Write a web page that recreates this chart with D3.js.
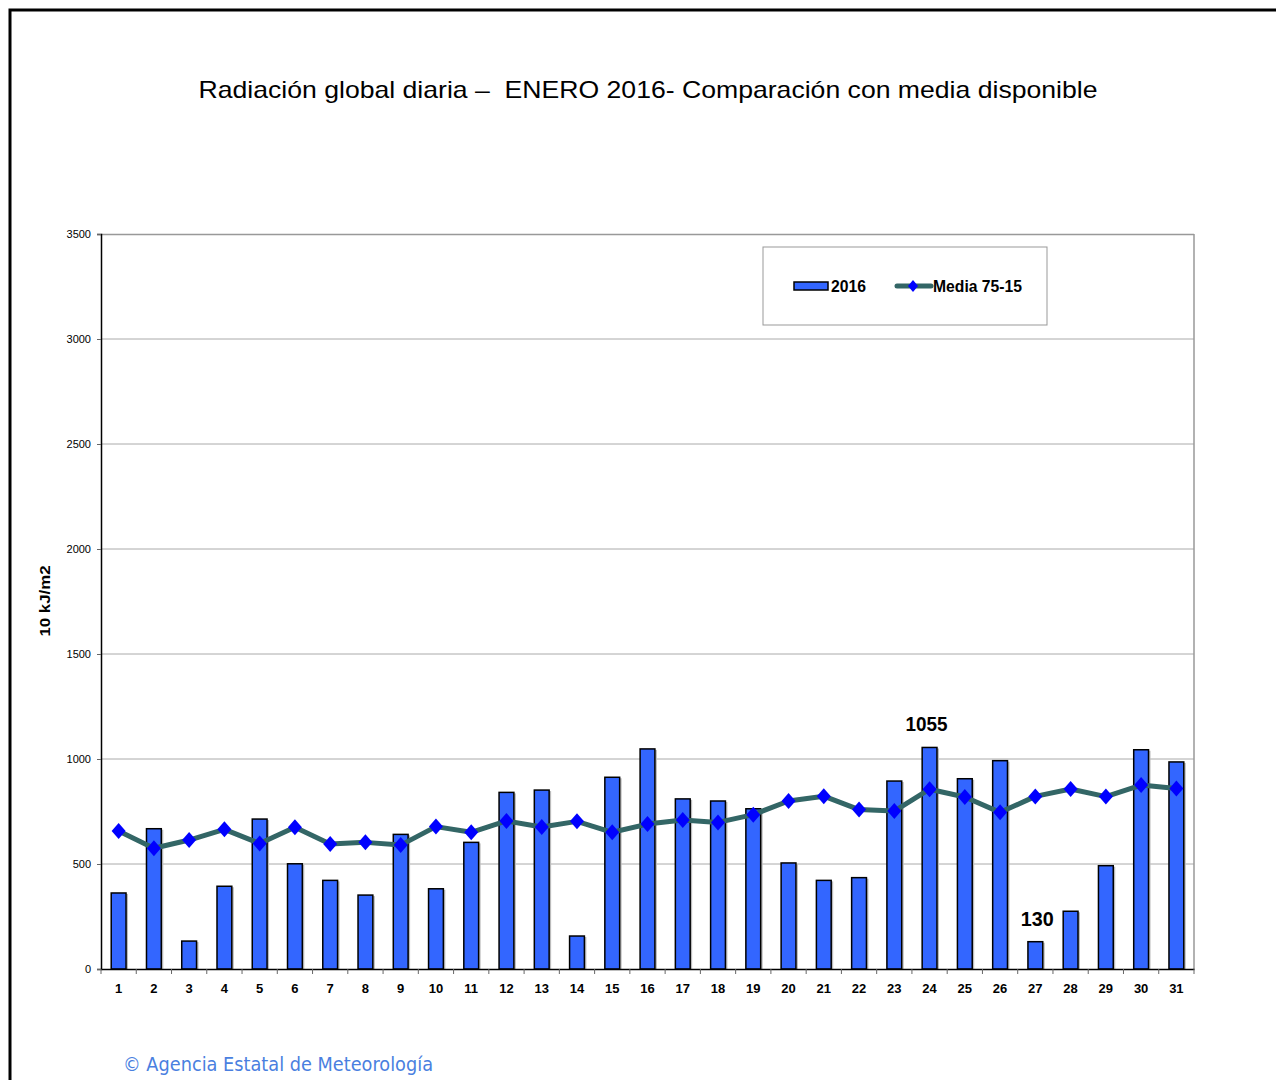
<!DOCTYPE html>
<html>
<head>
<meta charset="utf-8">
<script src="https://cdn.jsdelivr.net/npm/d3@7"></script>
<style>
  body { margin: 0; background: #fff; }
  svg { display: block; }
</style>
</head>
<body>
<div id="chart"></div>
<script>
// Dias de enero
const days = d3.range(1, 32).map(String);
// Radiacion 2016 (10 kJ/m2)
const values2016 = [362, 668, 133, 394, 714, 501, 422, 352, 641, 382,
                    603, 841, 852, 157, 913, 1048, 810, 800, 763, 505,
                    422, 435, 895, 1055, 906, 992, 130, 275, 492, 1044, 986];
// Media 75-15
const mediaValues = [657, 575, 614, 665, 598, 675, 595, 603, 590, 678,
                     651, 705, 676, 703, 651, 690, 710, 698, 735, 800,
                     823, 759, 752, 856, 819, 746, 822, 857, 821, 876, 859];
const yTicks = [0, 500, 1000, 1500, 2000, 2500, 3000, 3500];
// etiquetas de max / min
const labelled = [{day: "24", text: "1055", dx: -3, w: 42}, {day: "27", text: "130", dx: 2, w: 33}];

const width = 1276, height = 1080;
const margin = {top: 234, right: 82, bottom: 111, left: 101};
const plotW = width - margin.left - margin.right;
const plotH = height - margin.top - margin.bottom;

const svg = d3.select("#chart").append("svg")
    .attr("width", width)
    .attr("height", height)
    .style("font-family", "Arial, 'Liberation Sans', sans-serif");

// marco exterior
svg.append("rect")
    .attr("x", 10).attr("y", 10)
    .attr("width", width + 20).attr("height", height + 20)
    .attr("fill", "none").attr("stroke", "#000").attr("stroke-width", 3);

// titulo
svg.append("text")
    .attr("x", 648).attr("y", 98)
    .attr("text-anchor", "middle")
    .style("font-size", "24px")
    .style("white-space", "pre")
    .attr("textLength", 899)
    .attr("lengthAdjust", "spacingAndGlyphs")
    .text("Radiación global diaria –  ENERO 2016- Comparación con media disponible");

const g = svg.append("g").attr("transform", `translate(${margin.left},${margin.top})`);

const x = d3.scaleBand().domain(days).range([0, plotW]).paddingInner(0.58).paddingOuter(0.29);
const y = d3.scaleLinear().domain([0, 3500]).range([plotH, 0]);

// grid
g.selectAll(".grid").data(yTicks.filter(d => d > 0 && d < 3500)).enter().append("line")
    .attr("x1", 0).attr("x2", plotW)
    .attr("y1", d => y(d)).attr("y2", d => y(d))
    .attr("stroke", "#aaa").attr("stroke-width", 1);

// borde del area
g.append("line").attr("x1", 0).attr("x2", plotW).attr("y1", 0.5).attr("y2", 0.5)
    .attr("stroke", "#999").attr("stroke-width", 1.5);
g.append("line").attr("x1", plotW).attr("x2", plotW).attr("y1", 0).attr("y2", plotH)
    .attr("stroke", "#999").attr("stroke-width", 1.5);

// barras 2016
g.selectAll(".bar-shadow").data(values2016).enter().append("rect")
    .attr("x", (d, i) => x(days[i]) + 2)
    .attr("y", d => y(d) + 1)
    .attr("width", x.bandwidth())
    .attr("height", d => plotH - y(d) - 1)
    .attr("fill", "#bbb");
g.selectAll(".bar").data(values2016).enter().append("rect")
    .attr("x", (d, i) => x(days[i]))
    .attr("y", d => y(d))
    .attr("width", x.bandwidth())
    .attr("height", d => plotH - y(d))
    .attr("fill", "#3366ff")
    .attr("stroke", "#000").attr("stroke-width", 1.5);

// eje Y
const yAxis = g.append("g")
    .call(d3.axisLeft(y).tickValues(yTicks).tickSize(4).tickPadding(6).tickFormat(d3.format("d")));
yAxis.select(".domain").attr("stroke", "#000").attr("stroke-width", 1.5);
yAxis.selectAll(".tick line").attr("stroke", "#666");
yAxis.selectAll("text").style("font-size", "11px").attr("fill", "#000");

// eje X
const xAxis = g.append("g").attr("transform", `translate(0,${plotH})`)
    .call(d3.axisBottom(x).tickSize(0).tickPadding(15));
xAxis.select(".domain").attr("stroke", "#000").attr("stroke-width", 1.5);
xAxis.selectAll("text")
    .style("font-size", "13px").style("font-weight", "bold")
    .attr("fill", "#000");
const step = x.step();
g.selectAll(".xtick").data(d3.range(0, 32)).enter().append("line")
    .attr("x1", d => d * step).attr("x2", d => d * step)
    .attr("y1", plotH).attr("y2", plotH + 5)
    .attr("stroke", "#666");

// linea media
const cx = i => x(days[i]) + x.bandwidth() / 2;
g.append("path")
    .datum(mediaValues)
    .attr("fill", "none")
    .attr("stroke", "#336666")
    .attr("stroke-width", 5)
    .attr("stroke-linejoin", "round")
    .attr("d", d3.line().x((d, i) => cx(i)).y(d => y(d)));

const diamond = (w, h) => `M0,${-h}L${w},0L0,${h}L${-w},0Z`;
g.selectAll(".marker").data(mediaValues).enter().append("path")
    .attr("transform", (d, i) => `translate(${cx(i)},${y(d)})`)
    .attr("d", diamond(7, 8))
    .attr("fill", "#0000ff");

// etiquetas
g.selectAll(".lbl").data(labelled).enter().append("text")
    .attr("x", d => x(d.day) + x.bandwidth() / 2 + d.dx)
    .attr("y", d => y(+d.text) - 16)
    .attr("text-anchor", "middle")
    .style("font-size", "21px").style("font-weight", "bold")
    .attr("textLength", d => d.w)
    .attr("lengthAdjust", "spacingAndGlyphs")
    .text(d => d.text);

// titulo eje Y
svg.append("text")
    .attr("transform", "translate(50,601) rotate(-90)")
    .attr("text-anchor", "middle")
    .style("font-size", "15px").style("font-weight", "bold")
    .attr("textLength", 71)
    .attr("lengthAdjust", "spacingAndGlyphs")
    .text("10 kJ/m2");

// leyenda
const lg = svg.append("g").attr("transform", "translate(763,247)");
lg.append("rect").attr("width", 284).attr("height", 78)
    .attr("fill", "#fff").attr("stroke", "#999").attr("stroke-width", 1);
lg.append("rect").attr("x", 31).attr("y", 35).attr("width", 34).attr("height", 8)
    .attr("fill", "#3366ff").attr("stroke", "#000").attr("stroke-width", 1.5);
lg.append("text").attr("x", 68).attr("y", 45)
    .style("font-size", "17px").style("font-weight", "bold")
    .attr("textLength", 35).attr("lengthAdjust", "spacingAndGlyphs")
    .text("2016");
lg.append("line").attr("x1", 134).attr("x2", 168).attr("y1", 39).attr("y2", 39)
    .attr("stroke", "#336666").attr("stroke-width", 5).attr("stroke-linecap", "round");
lg.append("path").attr("transform", "translate(150,39)").attr("d", diamond(5, 6)).attr("fill", "#0000ff");
lg.append("text").attr("x", 170).attr("y", 45)
    .style("font-size", "17px").style("font-weight", "bold")
    .attr("textLength", 89).attr("lengthAdjust", "spacingAndGlyphs")
    .text("Media 75-15");

// pie
svg.append("text")
    .attr("x", 123).attr("y", 1071)
    .attr("fill", "#4a7fe0")
    .style("font-size", "19px")
    .style("font-family", "'DejaVu Sans', sans-serif")
    .attr("textLength", 310)
    .attr("lengthAdjust", "spacingAndGlyphs")
    .text("© Agencia Estatal de Meteorología");
</script>
</body>
</html>
